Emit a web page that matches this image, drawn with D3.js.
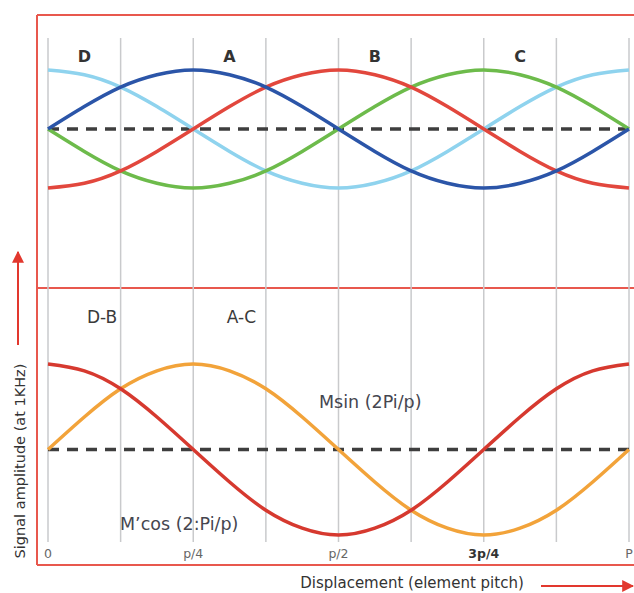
<!DOCTYPE html>
<html>
<head>
<meta charset="utf-8">
<script src="https://cdn.jsdelivr.net/npm/d3@7"></script>
<style>
    body { margin: 0; background: #fff; }
    text { font-family: 'DejaVu Sans', 'Open Sans', sans-serif; }
</style>
</head>
<body>
<svg id="chart" width="634" height="593"></svg>
<script>
// positions along one element pitch (0 .. P), every 1/16
const pitch = [0, 0.0625, 0.125, 0.1875, 0.25, 0.3125, 0.375, 0.4375, 0.5,
    0.5625, 0.625, 0.6875, 0.75, 0.8125, 0.875, 0.9375, 1];

// top panel: coil signals A..D (relative amplitude)
const sigA = [0, 0.38, 0.71, 0.92, 1, 0.92, 0.71, 0.38, 0, -0.38, -0.71, -0.92, -1, -0.92, -0.71, -0.38, 0];
const sigB = [-1, -0.92, -0.71, -0.38, 0, 0.38, 0.71, 0.92, 1, 0.92, 0.71, 0.38, 0, -0.38, -0.71, -0.92, -1];
const sigC = [0, -0.38, -0.71, -0.92, -1, -0.92, -0.71, -0.38, 0, 0.38, 0.71, 0.92, 1, 0.92, 0.71, 0.38, 0];
const sigD = [1, 0.92, 0.71, 0.38, 0, -0.38, -0.71, -0.92, -1, -0.92, -0.71, -0.38, 0, 0.38, 0.71, 0.92, 1];

// bottom panel: differential signals
const diffAC = [0, 0.38, 0.71, 0.92, 1, 0.92, 0.71, 0.38, 0, -0.38, -0.71, -0.92, -1, -0.92, -0.71, -0.38, 0];
const diffDB = [1, 0.92, 0.71, 0.38, 0, -0.38, -0.71, -0.92, -1, -0.92, -0.71, -0.38, 0, 0.38, 0.71, 0.92, 1];

const gridTicks = [0, 0.125, 0.25, 0.375, 0.5, 0.625, 0.75, 0.875, 1];
const tickLabels = [
    { at: 0, label: '0' },
    { at: 0.25, label: 'p/4' },
    { at: 0.5, label: 'p/2' },
    { at: 0.75, label: '3p/4', bold: true },
    { at: 1, label: 'P' },
];
const topLabels = [
    { at: 0.0625, label: 'D' },
    { at: 0.3125, label: 'A' },
    { at: 0.5625, label: 'B' },
    { at: 0.8125, label: 'C' },
];
const bottomLabels = [
    { at: 0.093, label: 'D-B' },
    { at: 0.333, label: 'A-C' },
];

const topSeries = [
    { name: 'D', values: sigD, color: '#8fd3ee' },
    { name: 'C', values: sigC, color: '#6dbb4b' },
    { name: 'B', values: sigB, color: '#e2473d' },
    { name: 'A', values: sigA, color: '#2b55a8' },
];
const bottomSeries = [
    { name: 'Msin (2Pi/p)', values: diffAC, color: '#f2a33a' },
    { name: "M'cos (2:Pi/p)", values: diffDB, color: '#d6392f' },
];

const svg = d3.select('#chart');
const frameColor = '#e8584e';
const arrowColor = '#e2382e';

const xScale = d3.scaleLinear().domain([0, 1]).range([48, 629]);
const yTop = d3.scaleLinear().domain([-1, 1]).range([188, 70]);
const yBottom = d3.scaleLinear().domain([-1, 1]).range([535, 364]);

// frame
const frame = svg.append('g')
    .attr('fill', 'none')
    .attr('stroke', frameColor)
    .attr('stroke-width', 2);
frame.append('line').attr('x1', 37).attr('x2', 640).attr('y1', 15).attr('y2', 15);
frame.append('line').attr('x1', 37).attr('x2', 37).attr('y1', 15).attr('y2', 565);
frame.append('line').attr('x1', 37).attr('x2', 640).attr('y1', 288).attr('y2', 288);
frame.append('line').attr('x1', 37).attr('x2', 640).attr('y1', 565).attr('y2', 565);

// vertical grid
svg.append('g')
    .selectAll('line')
    .data(gridTicks)
    .join('line')
    .attr('x1', d => xScale(d))
    .attr('x2', d => xScale(d))
    .attr('y1', 38)
    .attr('y2', 542)
    .attr('stroke', '#c9cacc')
    .attr('stroke-width', 1.5);

function drawPanel(series, yScale) {
    const g = svg.append('g');
    g.append('line')
        .attr('x1', xScale(0))
        .attr('x2', xScale(1))
        .attr('y1', yScale(0))
        .attr('y2', yScale(0))
        .attr('stroke', '#3e3e3e')
        .attr('stroke-width', 3.5)
        .attr('stroke-dasharray', '11,8');

    const line = d3.line()
        .x((d, i) => xScale(pitch[i]))
        .y(d => yScale(d))
        .curve(d3.curveNatural);

    g.selectAll('path')
        .data(series)
        .join('path')
        .attr('fill', 'none')
        .attr('stroke', d => d.color)
        .attr('stroke-width', 3.5)
        .attr('d', d => line(d.values));
}

drawPanel(topSeries, yTop);
drawPanel(bottomSeries, yBottom);

// panel labels
svg.append('g')
    .selectAll('text')
    .data(topLabels)
    .join('text')
    .attr('x', d => xScale(d.at))
    .attr('y', 62)
    .attr('text-anchor', 'middle')
    .attr('font-size', 16)
    .attr('font-weight', 700)
    .attr('fill', '#333')
    .text(d => d.label);

svg.append('g')
    .selectAll('text')
    .data(bottomLabels)
    .join('text')
    .attr('x', d => xScale(d.at))
    .attr('y', 323)
    .attr('text-anchor', 'middle')
    .attr('font-size', 17)
    .attr('fill', '#3a3a3a')
    .text(d => d.label);

svg.append('text')
    .attr('x', 319)
    .attr('y', 408)
    .attr('font-size', 17.5)
    .attr('fill', '#45464f')
    .text('Msin (2Pi/p)');

svg.append('text')
    .attr('x', 120)
    .attr('y', 530)
    .attr('font-size', 17.5)
    .attr('fill', '#45464f')
    .text("M\u2019cos (2:Pi/p)");

// x tick labels
svg.append('g')
    .selectAll('text')
    .data(tickLabels)
    .join('text')
    .attr('x', d => xScale(d.at))
    .attr('y', 558)
    .attr('text-anchor', 'middle')
    .attr('font-size', 12.5)
    .attr('font-weight', d => d.bold ? 700 : 400)
    .attr('fill', d => d.bold ? '#333' : '#666')
    .text(d => d.label);

// axis titles with arrows
const defs = svg.append('defs');
defs.append('marker')
    .attr('id', 'arrow')
    .attr('viewBox', '0 0 10 10')
    .attr('refX', 9)
    .attr('refY', 5)
    .attr('markerWidth', 6)
    .attr('markerHeight', 6)
    .attr('markerUnits', 'strokeWidth')
    .attr('orient', 'auto')
    .append('path')
    .attr('d', 'M0,0 L10,5 L0,10 z')
    .attr('fill', arrowColor);

svg.append('text')
    .attr('x', 412)
    .attr('y', 588)
    .attr('text-anchor', 'middle')
    .attr('font-size', 15)
    .attr('fill', '#333')
    .text('Displacement (element pitch)');

svg.append('line')
    .attr('x1', 541).attr('x2', 633)
    .attr('y1', 586).attr('y2', 586)
    .attr('stroke', arrowColor)
    .attr('stroke-width', 2)
    .attr('marker-end', 'url(#arrow)');

svg.append('text')
    .attr('transform', 'translate(25, 461) rotate(-90)')
    .attr('text-anchor', 'middle')
    .attr('font-size', 14.5)
    .attr('fill', '#333')
    .text('Signal amplitude (at 1KHz)');

svg.append('line')
    .attr('x1', 18).attr('x2', 18)
    .attr('y1', 345).attr('y2', 252)
    .attr('stroke', arrowColor)
    .attr('stroke-width', 2)
    .attr('marker-end', 'url(#arrow)');
</script>
</body>
</html>
